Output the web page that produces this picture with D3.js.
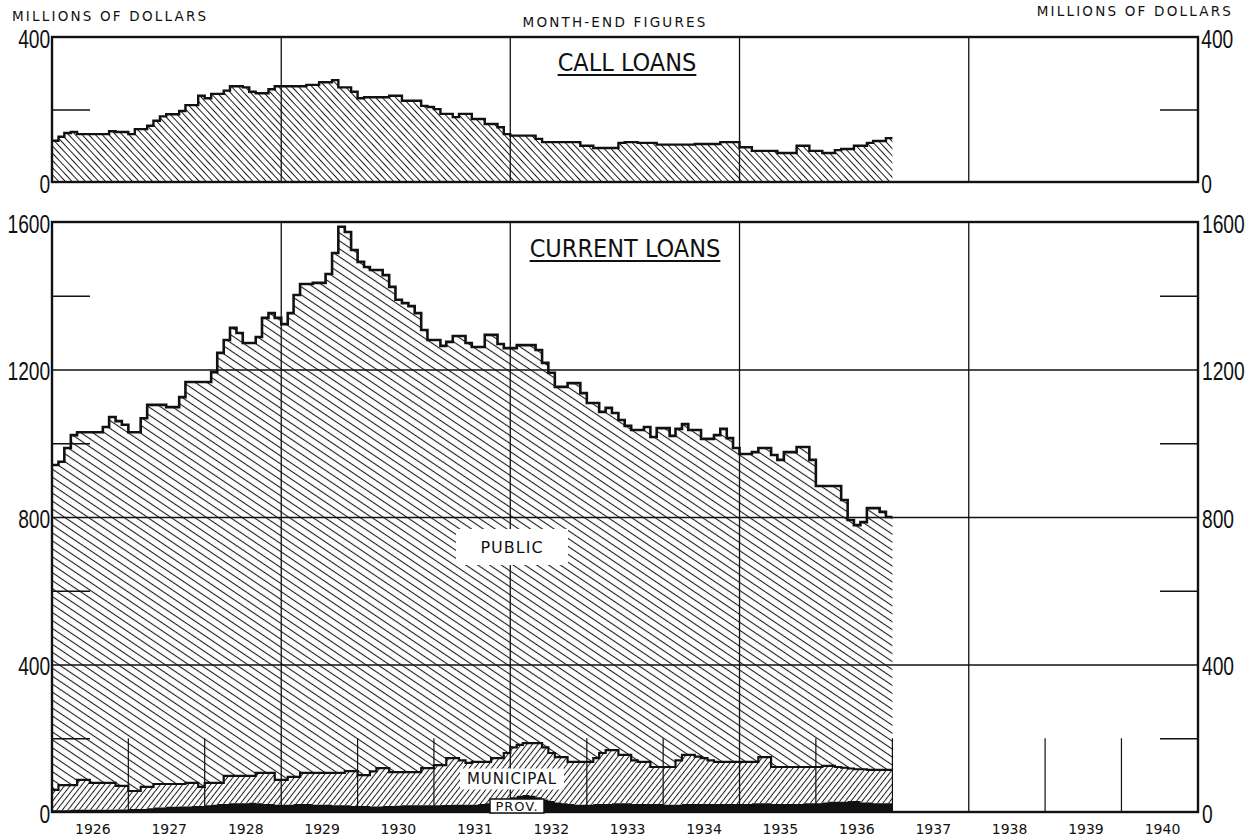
<!DOCTYPE html>
<html>
<head>
<meta charset="utf-8">
<script src="https://cdn.jsdelivr.net/npm/d3@7"></script>
<style>
body { margin: 0; background: #fff; }
text { font-family: "DejaVu Sans", "Liberation Sans", sans-serif; fill: #111; }
.num { font-family: "Liberation Sans", "DejaVu Sans", sans-serif; font-size: 26px; }
.small { font-size: 13.5px; letter-spacing: 2.2px; }
.title { font-family: "DejaVu Sans Condensed", "Liberation Sans Narrow", "DejaVu Sans", sans-serif; font-stretch: condensed; font-size: 25px; }
.lab { letter-spacing: 1px; }
</style>
</head>
<body>
<div id="chart"></div>
<script>
//Month-end figures, Jan 1926 - Dec 1936, millions of dollars
var years = [1926,1927,1928,1929,1930,1931,1932,1933,1934,1935,1936,1937,1938,1939,1940];

var callLoans = [
  114,125,135,138,132,132,132,132,132,140,138,138,   //1926
  132,146,146,155,169,181,187,187,196,212,212,238,   //1927
  231,243,243,252,264,264,261,249,245,245,256,264,   //1928
  264,264,264,264,268,268,275,275,281,261,261,249,   //1929
  231,234,234,234,234,238,238,224,224,224,210,207,   //1930
  201,188,188,179,188,188,174,174,160,160,151,132,   //1931
  128,128,128,128,119,110,110,110,110,110,110,100,   //1932
  100,94,94,94,94,108,110,110,108,108,108,103,       //1933
  103,103,103,103,103,105,105,105,105,110,110,110,   //1934
  96,96,86,86,86,86,80,80,80,100,100,86,             //1935
  86,80,80,88,91,91,100,100,108,113,113,121          //1936
];

//total current loans (public + municipal + provincial)
var currentTotal = [
  941,950,987,1022,1030,1030,1030,1030,1044,1071,1060,1050,
  1030,1030,1068,1104,1104,1104,1098,1098,1125,1166,1166,1166,
  1166,1193,1245,1280,1313,1299,1272,1272,1288,1340,1353,1340,
  1323,1353,1402,1432,1432,1435,1435,1459,1516,1587,1573,1524,
  1492,1478,1470,1470,1456,1424,1389,1380,1372,1353,1307,1280,
  1280,1264,1275,1291,1291,1272,1261,1261,1294,1294,1269,1258,
  1258,1266,1266,1266,1253,1218,1191,1153,1153,1163,1163,1136,
  1109,1109,1085,1096,1082,1063,1047,1036,1036,1044,1017,1041,
  1041,1020,1039,1052,1036,1036,1012,1012,1022,1039,1014,987,
  971,971,976,987,987,968,955,976,976,990,990,955,
  884,884,884,884,846,792,778,786,824,824,814,800
];

var municipal = [
  55,68,68,67,81,81,73,73,73,73,64,64,
  49,49,60,58,64,64,62,62,61,64,63,52,
  61,59,57,76,74,74,74,73,82,84,84,67,
  67,75,73,84,84,86,86,86,88,88,93,95,
  84,84,95,104,103,92,91,90,90,90,101,101,
  109,108,127,126,120,113,116,114,112,120,116,124,
  135,138,141,143,147,141,130,123,125,114,116,116,
  116,124,138,146,144,131,131,118,114,114,100,100,
  102,102,120,133,133,128,124,118,114,114,114,114,
  114,114,112,125,125,100,100,100,100,100,98,98,
  98,99,97,94,92,88,86,90,88,90,90,90
];

var provincial = [
  5,5,5,6,6,6,6,6,6,6,7,7,
  8,8,8,10,12,12,14,14,15,15,16,16,
  18,20,22,22,24,24,24,25,24,22,22,20,
  20,20,22,22,22,20,20,20,18,18,18,16,
  16,16,15,15,16,16,17,18,18,18,18,18,
  18,19,19,20,20,20,20,22,24,26,30,36,
  40,44,46,44,40,34,30,26,24,22,20,20,
  20,22,22,22,24,24,24,22,22,22,22,22,
  20,20,20,22,22,22,22,22,22,22,22,22,
  22,22,24,24,24,22,22,22,22,22,24,24,
  24,26,28,28,28,30,30,26,26,24,24,24
];

var callTicks = [0, 400], callMinor = [200];
var curTicks = [0, 400, 800, 1200, 1600], curGrid = [400, 800, 1200], curMinor = [200, 600, 1000, 1400];
var majorYears = [1929, 1932, 1935, 1938];
var minorYears = [1927, 1928, 1930, 1931, 1933, 1934, 1936, 1937, 1939, 1940];

var left = 52, right = 1198;

var svg = d3.select("#chart").append("svg")
    .attr("width", 1259)
    .attr("height", 840);

svg.append("rect").attr("width", 1259).attr("height", 840).attr("fill", "#fff");

var x = d3.scaleTime()
    .domain([new Date(1926, 0, 1), new Date(1941, 0, 1)])
    .range([left, right]);
var yCall = d3.scaleLinear().domain([0, 400]).range([182, 37]);
var yCur = d3.scaleLinear().domain([0, 1600]).range([812, 222]);

//hatch patterns
var defs = svg.append("defs");
function hatch(id, angle, gap, sw) {
  defs.append("pattern")
    .attr("id", id)
    .attr("patternUnits", "userSpaceOnUse")
    .attr("width", 20)
    .attr("height", gap)
    .attr("patternTransform", "rotate(" + angle + ")")
    .append("line")
    .attr("x1", 0).attr("x2", 20)
    .attr("y1", gap / 2).attr("y2", gap / 2)
    .attr("stroke", "#1a1a1a")
    .attr("stroke-width", sw);
}
hatch("publicHatch", 34, 6.6, 1.1);
hatch("callHatch", 47, 4.9, 1);
hatch("muniHatch", -52, 4.4, 1);

//monthly rows, with one extra point closing the last step
var n = callLoans.length;
var rows = d3.range(n + 1).map(function (i) {
  var k = Math.min(i, n - 1);
  return {
    date: new Date(1926, i, 1),
    call: callLoans[k],
    total: currentTotal[k],
    muni: municipal[k],
    prov: provincial[k]
  };
});

//CALL LOANS panel
svg.append("path")
    .datum(rows)
    .attr("fill", "url(#callHatch)")
    .attr("d", d3.area().curve(d3.curveStepAfter)
      .x(function (d) { return x(d.date); })
      .y0(yCall(0))
      .y1(function (d) { return yCall(d.call); }));

svg.append("path")
    .datum(rows)
    .attr("fill", "none")
    .attr("stroke", "#111")
    .attr("stroke-width", 2.4)
    .attr("d", d3.line().curve(d3.curveStepAfter)
      .x(function (d) { return x(d.date); })
      .y(function (d) { return yCall(d.call); }));

//CURRENT LOANS panel
var stepArea = function (lo, hi) {
  return d3.area().curve(d3.curveStepAfter)
    .x(function (d) { return x(d.date); })
    .y0(function (d) { return yCur(lo(d)); })
    .y1(function (d) { return yCur(hi(d)); });
};

svg.append("path").datum(rows)
    .attr("fill", "url(#publicHatch)")
    .attr("d", stepArea(function (d) { return d.prov + d.muni; }, function (d) { return d.total; }));

svg.append("path").datum(rows)
    .attr("fill", "url(#muniHatch)")
    .attr("d", stepArea(function (d) { return d.prov; }, function (d) { return d.prov + d.muni; }));

svg.append("path").datum(rows)
    .attr("fill", "#111")
    .attr("d", stepArea(function (d) { return 0; }, function (d) { return d.prov; }));

svg.append("path").datum(rows)
    .attr("fill", "none").attr("stroke", "#111").attr("stroke-width", 2.6)
    .attr("d", d3.line().curve(d3.curveStepAfter)
      .x(function (d) { return x(d.date); })
      .y(function (d) { return yCur(d.total); }));

svg.append("path").datum(rows)
    .attr("fill", "none").attr("stroke", "#111").attr("stroke-width", 2.2)
    .attr("d", d3.line().curve(d3.curveStepAfter)
      .x(function (d) { return x(d.date); })
      .y(function (d) { return yCur(d.prov + d.muni); }));

//grid lines
function styleAxis(g) {
  g.select(".domain").remove();
  g.selectAll("line").attr("stroke", "#111").attr("stroke-width", 1.4);
}

svg.append("g").attr("transform", "translate(" + left + ",0)")
    .call(d3.axisLeft(yCur).tickValues(curGrid).tickSize(-(right - left)).tickFormat(""))
    .call(styleAxis);
svg.append("g").attr("transform", "translate(" + left + ",0)")
    .call(d3.axisLeft(yCur).tickValues(curMinor).tickSize(-38).tickFormat(""))
    .call(styleAxis);
svg.append("g").attr("transform", "translate(" + right + ",0)")
    .call(d3.axisRight(yCur).tickValues(curMinor).tickSize(-38).tickFormat(""))
    .call(styleAxis);
svg.append("g").attr("transform", "translate(" + left + ",0)")
    .call(d3.axisLeft(yCall).tickValues(callMinor).tickSize(-38).tickFormat(""))
    .call(styleAxis);
svg.append("g").attr("transform", "translate(" + right + ",0)")
    .call(d3.axisRight(yCall).tickValues(callMinor).tickSize(-38).tickFormat(""))
    .call(styleAxis);

majorYears.forEach(function (yr) {
  var xx = x(new Date(yr, 0, 1));
  [[yCall(0), yCall(400)], [yCur(0), yCur(1600)]].forEach(function (r) {
    svg.append("line")
      .attr("x1", xx).attr("x2", xx).attr("y1", r[0]).attr("y2", r[1])
      .attr("stroke", "#111").attr("stroke-width", 1.3);
  });
});
minorYears.forEach(function (yr) {
  var xx = x(new Date(yr, 0, 1));
  svg.append("line")
    .attr("x1", xx).attr("x2", xx).attr("y1", yCur(0)).attr("y2", yCur(200))
    .attr("stroke", "#111").attr("stroke-width", 1.2);
});

//frames
[[yCall(400), yCall(0)], [yCur(1600), yCur(0)]].forEach(function (r) {
  svg.append("rect")
    .attr("x", left).attr("y", r[0])
    .attr("width", right - left).attr("height", r[1] - r[0])
    .attr("fill", "none").attr("stroke", "#111").attr("stroke-width", 2.4);
});

//axis numbers: tall narrow lettering
function numAxis(g) {
  g.select(".domain").remove();
  g.selectAll("line").remove();
  g.selectAll("text")
    .attr("class", "num")
    .attr("dy", "0.4em")
    .attr("fill", "#111")
    .attr("transform", "scale(0.74,1)");
}
var fmt = d3.format("d");
svg.append("g").attr("transform", "translate(" + (left - 1) + ",0)")
    .call(d3.axisLeft(yCall).tickValues(callTicks).tickSize(0).tickPadding(1).tickFormat(fmt))
    .call(numAxis);
svg.append("g").attr("transform", "translate(" + (right + 1) + ",0)")
    .call(d3.axisRight(yCall).tickValues(callTicks).tickSize(0).tickPadding(3).tickFormat(fmt))
    .call(numAxis);
svg.append("g").attr("transform", "translate(" + (left - 1) + ",0)")
    .call(d3.axisLeft(yCur).tickValues(curTicks).tickSize(0).tickPadding(1).tickFormat(fmt))
    .call(numAxis);
svg.append("g").attr("transform", "translate(" + (right + 1) + ",0)")
    .call(d3.axisRight(yCur).tickValues(curTicks).tickSize(0).tickPadding(4).tickFormat(fmt))
    .call(numAxis);

//year labels
svg.append("g").selectAll("text")
    .data(years)
    .enter().append("text")
    .attr("x", function (d) { return x(new Date(d, 6, 1)) + 3; })
    .attr("y", 834)
    .attr("text-anchor", "middle")
    .style("font-size", "14px")
    .text(function (d) { return d; });

//headings
svg.append("text").attr("class", "small").attr("x", 12).attr("y", 21).text("MILLIONS OF DOLLARS");
svg.append("text").attr("class", "small").attr("x", 1233).attr("y", 16).attr("text-anchor", "end").text("MILLIONS OF DOLLARS");
svg.append("text").attr("class", "small").attr("x", 615).attr("y", 27).attr("text-anchor", "middle").text("MONTH-END FIGURES");

function title(txt, cx, by) {
  var t = svg.append("text").attr("class", "title")
    .attr("x", cx).attr("y", by).attr("text-anchor", "middle").text(txt);
  var w = t.node().getComputedTextLength();
  svg.append("line")
    .attr("x1", cx - w / 2).attr("x2", cx + w / 2)
    .attr("y1", by + 4).attr("y2", by + 4)
    .attr("stroke", "#111").attr("stroke-width", 2);
}
title("CALL LOANS", 627, 71);
title("CURRENT LOANS", 625, 257);

//series labels on white boxes
function boxLabel(txt, cx, cy, w, h, size, border) {
  svg.append("rect")
    .attr("x", cx - w / 2).attr("y", cy - h / 2).attr("width", w).attr("height", h)
    .attr("fill", "#fff")
    .attr("stroke", border ? "#111" : "none").attr("stroke-width", 1.5);
  svg.append("text")
    .attr("class", "lab")
    .attr("x", cx).attr("y", cy)
    .attr("dy", "0.36em")
    .attr("text-anchor", "middle")
    .style("font-size", size + "px")
    .text(txt);
}
boxLabel("PUBLIC", 512, 547, 112, 36, 16, false);
boxLabel("MUNICIPAL", 512, 779, 104, 21, 15, false);
boxLabel("PROV.", 517, 806, 54, 14, 13, true);
</script>
</body>
</html>
